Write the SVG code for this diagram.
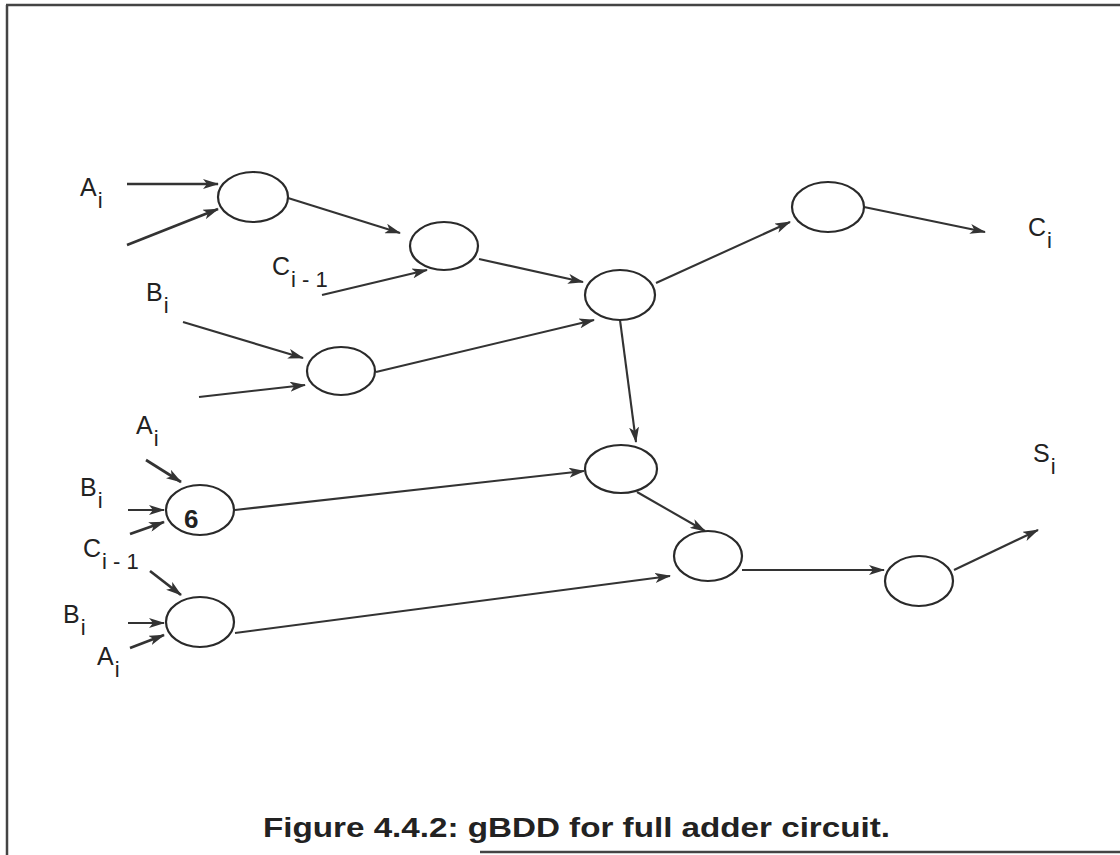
<svg xmlns="http://www.w3.org/2000/svg" width="1120" height="855" viewBox="0 0 1120 855">
  <style>
    .node ellipse { fill: none; stroke: #2a2a2a; stroke-width: 2.2; }
    .edges line { stroke: #333; stroke-width: 2.1; marker-end: url(#arrow); }
    .edges line.heavy { stroke-width: 2.7; }
    .lbl { font-family: "Liberation Sans", Arial, sans-serif; font-size: 25px; fill: #222; }
    .sub { font-size: 22px; }
    .cap { font-family: "Liberation Sans", Arial, sans-serif; font-weight: bold; font-size: 28px; fill: #222; }
    .frame { stroke: #444; stroke-width: 2.5; fill: none; }
  </style>
  <defs>
    <marker id="arrow" viewBox="0 0 16 10" refX="15" refY="5" markerWidth="16" markerHeight="10" markerUnits="userSpaceOnUse" orient="auto">
      <path d="M0,0 L16,5 L0,10 L4,5 z" fill="#333"/>
    </marker>
  </defs>

  <rect width="1120" height="855" fill="#fff"/>

  <!-- page frame -->
  <g id="frame">
    <line class="frame" x1="6" y1="5" x2="1120" y2="5"/>
    <line class="frame" x1="7" y1="5" x2="7" y2="855"/>
    <line class="frame" x1="480" y1="852" x2="1120" y2="852"/>
  </g>

  <!-- connectors -->
  <g class="edges">
    <line class="heavy" x1="127" y1="184" x2="218" y2="184"/>
    <line class="heavy" x1="127" y1="245" x2="218" y2="209"/>
    <line x1="288" y1="198" x2="400" y2="233"/>
    <line x1="322" y1="295" x2="427" y2="270"/>
    <line x1="479" y1="259" x2="583" y2="282"/>
    <line x1="183" y1="322" x2="303" y2="358"/>
    <line x1="199" y1="397" x2="305" y2="385"/>
    <line x1="376" y1="372" x2="594" y2="320"/>
    <line x1="656" y1="283" x2="790" y2="222"/>
    <line x1="864" y1="207" x2="985" y2="232"/>
    <line x1="620" y1="320" x2="636" y2="442"/>
    <line x1="235" y1="510" x2="584" y2="471"/>
    <line x1="637" y1="492" x2="705" y2="531"/>
    <line x1="235" y1="633" x2="670" y2="576"/>
    <line x1="742" y1="570" x2="884" y2="570"/>
    <line x1="954" y1="570" x2="1038" y2="530"/>
    <line class="heavy" x1="146" y1="460" x2="181" y2="482"/>
    <line x1="128" y1="510" x2="164" y2="510"/>
    <line class="heavy" x1="130" y1="534" x2="164" y2="522"/>
    <line class="heavy" x1="150" y1="571" x2="181" y2="595"/>
    <line x1="128" y1="623" x2="164" y2="623"/>
    <line class="heavy" x1="130" y1="648" x2="164" y2="635"/>
  </g>

  <!-- nodes -->
  <g id="n1" class="node"><ellipse cx="253" cy="197" rx="35" ry="25"/></g>
  <g id="n2" class="node"><ellipse cx="444" cy="246" rx="34" ry="24"/></g>
  <g id="n3" class="node"><ellipse cx="620" cy="295" rx="35" ry="25"/></g>
  <g id="n4" class="node"><ellipse cx="828" cy="207" rx="36" ry="25"/></g>
  <g id="n5" class="node"><ellipse cx="341" cy="371" rx="34" ry="24"/></g>
  <g id="n6" class="node"><ellipse cx="621" cy="469" rx="36" ry="24"/></g>
  <g id="n7" class="node">
    <ellipse cx="200" cy="510" rx="34" ry="25"/>
    <text x="184" y="528" font-family="Liberation Sans, Arial, sans-serif" font-weight="bold" font-size="26" fill="#222">6</text>
  </g>
  <g id="n8" class="node"><ellipse cx="708" cy="556" rx="34" ry="25"/></g>
  <g id="n9" class="node"><ellipse cx="919" cy="581" rx="34" ry="25"/></g>
  <g id="n10" class="node"><ellipse cx="200" cy="622" rx="34" ry="25"/></g>

  <!-- variable labels -->
  <g id="labels">
    <text class="lbl" x="80" y="196">A<tspan class="sub" dx="1" dy="12">i</tspan></text>
    <text class="lbl" x="146" y="301">B<tspan class="sub" dx="1" dy="12">i</tspan></text>
    <text class="lbl" x="272" y="275">C<tspan class="sub" dx="1" dy="12">i - 1</tspan></text>
    <text class="lbl" x="1028" y="236">C<tspan class="sub" dx="1" dy="12">i</tspan></text>
    <text class="lbl" x="1033" y="462">S<tspan class="sub" dx="1" dy="12">i</tspan></text>
    <text class="lbl" x="136" y="434">A<tspan class="sub" dx="1" dy="12">i</tspan></text>
    <text class="lbl" x="80" y="496">B<tspan class="sub" dx="1" dy="12">i</tspan></text>
    <text class="lbl" x="83" y="557">C<tspan class="sub" dx="1" dy="12">i - 1</tspan></text>
    <text class="lbl" x="63" y="623">B<tspan class="sub" dx="1" dy="12">i</tspan></text>
    <text class="lbl" x="97" y="665">A<tspan class="sub" dx="1" dy="12">i</tspan></text>
  </g>

  <text class="cap" x="263" y="837" textLength="627" lengthAdjust="spacingAndGlyphs">Figure 4.4.2: gBDD for full adder circuit.</text>
</svg>
